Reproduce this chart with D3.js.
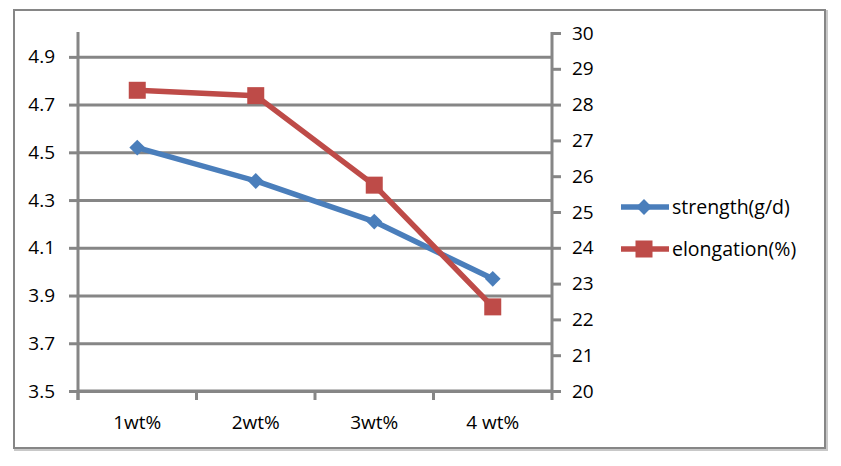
<!DOCTYPE html>
<html>
<head>
<meta charset="utf-8">
<script src="https://cdn.jsdelivr.net/npm/d3@7"></script>
<style>
  body { margin: 0; background: #fff; }
  svg text { font-family: "Open Sans", "Noto Sans", sans-serif; fill: #000; }
</style>
</head>
<body>
<svg width="841" height="466"></svg>
<script>
// chart data
var categories = ["1wt%", "2wt%", "3wt%", "4 wt%"];
var strength = [4.52, 4.38, 4.21, 3.97];
var elongation = [28.4, 28.25, 25.75, 22.35];
var leftTicks = [3.5, 3.7, 3.9, 4.1, 4.3, 4.5, 4.7, 4.9];
var rightTicks = [20, 21, 22, 23, 24, 25, 26, 27, 28, 29, 30];
var seriesNames = ["strength(g/d)", "elongation(%)"];

var svg = d3.select("svg");
var grey = "#868686";
var blue = "#4a7ebb";
var red = "#be4b48";

// outer frame
svg.append("rect").attr("x", 15).attr("y", 11).attr("width", 812).attr("height", 439)
    .attr("fill", "none").attr("stroke", "#c8c8c8").attr("stroke-width", 2);
svg.append("rect").attr("x", 14).attr("y", 10).attr("width", 811).attr("height", 438)
    .attr("fill", "#fff").attr("stroke", grey).attr("stroke-width", 2);

var x0 = 78, x1 = 552, yTop = 33, yBot = 391;

var scaleX = d3.scaleBand().domain(categories).range([x0, x1]).padding(0);
var scaleL = d3.scaleLinear().domain([3.5, 5.0]).range([yBot, yTop]);
var scaleR = d3.scaleLinear().domain([20, 30]).range([yBot, yTop]);

// gridlines
svg.append("g")
    .attr("transform", "translate(" + x0 + ",0)")
    .call(d3.axisLeft(scaleL).tickValues(leftTicks).tickSize(-(x1 - x0)).tickFormat(""))
    .call(function(g){
        g.select(".domain").remove();
        g.selectAll("line").attr("stroke", grey).attr("stroke-width", 3);
    });

// left axis
var gl = svg.append("g")
    .attr("transform", "translate(" + x0 + ",0)")
    .call(d3.axisLeft(scaleL).tickValues(leftTicks).tickSize(9).tickPadding(14).tickSizeOuter(0)
        .tickFormat(d3.format(".1f")));
gl.select(".domain").remove();
gl.selectAll("line").attr("stroke", grey).attr("stroke-width", 3);
gl.selectAll("text").attr("font-size", 19).attr("font-family", "Open Sans");
gl.append("line").attr("x1", 0).attr("x2", 0).attr("y1", yTop - 1).attr("y2", yBot + 9)
    .attr("stroke", grey).attr("stroke-width", 3);

// right axis
var gr = svg.append("g")
    .attr("transform", "translate(" + x1 + ",0)")
    .call(d3.axisRight(scaleR).tickValues(rightTicks).tickSize(9).tickPadding(11).tickSizeOuter(0));
gr.select(".domain").remove();
gr.selectAll("line").attr("stroke", grey).attr("stroke-width", 3);
gr.selectAll("text").attr("font-size", 19).attr("font-family", "Open Sans");
gr.append("line").attr("x1", 0).attr("x2", 0).attr("y1", yTop - 1).attr("y2", yBot + 9)
    .attr("stroke", grey).attr("stroke-width", 3);

// bottom axis
var gb = svg.append("g").attr("transform", "translate(0," + yBot + ")");
gb.append("line").attr("x1", x0).attr("x2", x1).attr("y1", 0).attr("y2", 0)
    .attr("stroke", grey).attr("stroke-width", 3);
gb.selectAll(".cattick")
    .data(categories)
    .enter()
    .append("line")
    .attr("class", "cattick")
    .attr("x1", function(d){ return scaleX(d); })
    .attr("x2", function(d){ return scaleX(d); })
    .attr("y1", 0).attr("y2", 9)
    .attr("stroke", grey).attr("stroke-width", 3);
gb.selectAll(".catlabel")
    .data(categories)
    .enter()
    .append("text")
    .attr("class", "catlabel")
    .attr("x", function(d){ return scaleX(d) + scaleX.bandwidth() / 2; })
    .attr("y", 31)
    .attr("dy", "0.35em")
    .attr("text-anchor", "middle")
    .attr("font-size", 19)
    .text(function(d){ return d; });

function cx(i){ return scaleX(categories[i]) + scaleX.bandwidth() / 2; }

// strength line
var lineS = d3.line()
    .x(function(d, i){ return cx(i); })
    .y(function(d){ return scaleL(d); });
svg.append("path").datum(strength)
    .attr("d", lineS).attr("fill", "none")
    .attr("stroke", blue).attr("stroke-width", 5.5).attr("stroke-linejoin", "round");

// elongation line
var lineE = d3.line()
    .x(function(d, i){ return cx(i); })
    .y(function(d){ return scaleR(d); });
svg.append("path").datum(elongation)
    .attr("d", lineE).attr("fill", "none")
    .attr("stroke", red).attr("stroke-width", 5.5).attr("stroke-linejoin", "round");

var diamond = d3.symbol().type(d3.symbolSquare).size(125);
svg.selectAll(".mS")
    .data(strength)
    .enter()
    .append("path")
    .attr("class", "mS")
    .attr("d", diamond)
    .attr("transform", function(d, i){ return "translate(" + cx(i) + "," + scaleL(d) + ") rotate(45)"; })
    .attr("fill", blue);

svg.selectAll(".mE")
    .data(elongation)
    .enter()
    .append("rect")
    .attr("class", "mE")
    .attr("x", function(d, i){ return cx(i) - 8.5; })
    .attr("y", function(d){ return scaleR(d) - 8.5; })
    .attr("width", 17).attr("height", 17)
    .attr("fill", red);

// legend
var legend = svg.append("g");
var legY = [207, 249];
var legColors = [blue, red];
seriesNames.forEach(function(name, i){
    legend.append("line")
        .attr("x1", 621).attr("x2", 669)
        .attr("y1", legY[i]).attr("y2", legY[i])
        .attr("stroke", legColors[i]).attr("stroke-width", 5.5);
    if (i == 0) {
        legend.append("path")
            .attr("d", diamond)
            .attr("transform", "translate(644," + legY[i] + ") rotate(45)")
            .attr("fill", blue);
    } else {
        legend.append("rect")
            .attr("x", 635.5).attr("y", legY[i] - 8.5)
            .attr("width", 17).attr("height", 17)
            .attr("fill", red);
    }
    legend.append("text")
        .attr("x", 672).attr("y", legY[i])
        .attr("dy", "0.35em")
        .attr("font-size", 19.5)
        .text(name);
});
</script>
</body>
</html>
